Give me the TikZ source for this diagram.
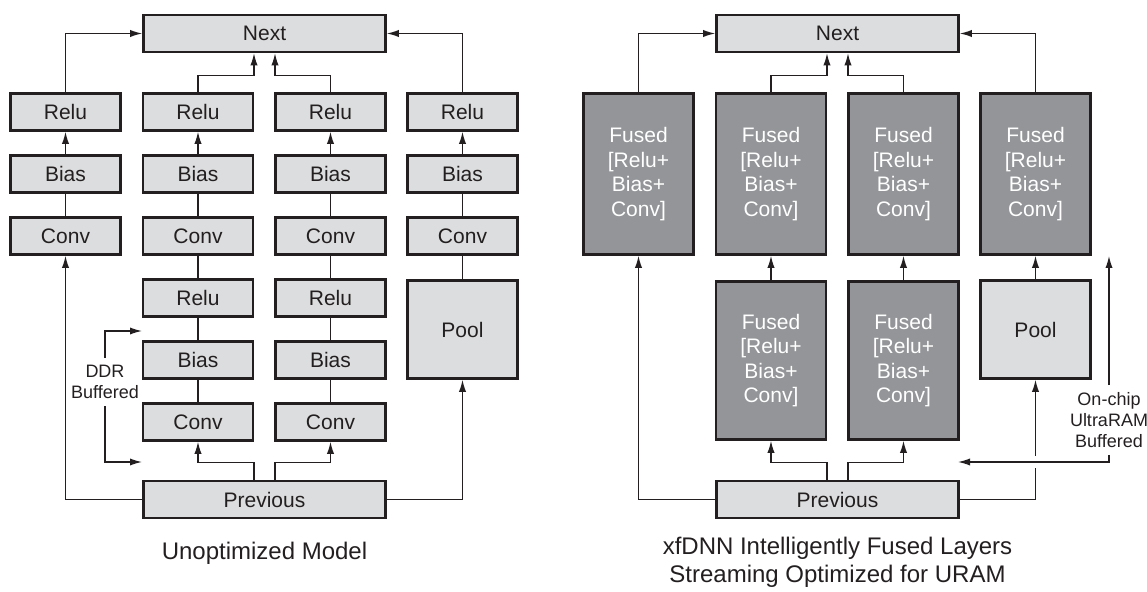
\documentclass[tikz,border=0pt]{standalone}
\usepackage{fontspec}
\setmainfont{Liberation Sans}
\usetikzlibrary{arrows.meta}
\definecolor{lgray}{HTML}{DCDDDE}
\definecolor{dgray}{HTML}{939598}
\definecolor{ink}{HTML}{231F20}
\newcommand{\fusedtext}{Fused\\{[}Relu+\\Bias+\\Conv{]}}

\begin{document}
\begin{tikzpicture}[x=0.5pt,y=-0.5pt,color=ink,line width=0.65pt,
  font=\fontsize{10.5}{12.25}\selectfont,>={Latex[length=6pt,width=3.6pt]},
  b/.style={draw=ink,fill=lgray,line width=1.3pt,minimum width=55pt,minimum height=18.5pt,inner sep=0pt,text=ink},
  fb/.style={b,fill=dgray,text=white,align=center,minimum height=80.5pt},
  nb/.style={b,minimum width=121pt},
  lbl/.style={font=\fontsize{9}{10.5}\selectfont,align=center},
  captxt/.style={font=\fontsize{12}{14}\selectfont,align=center}]
  \useasboundingbox (0,0) rectangle (1147,592);
  % unoptimized model
  \node[nb] (nx) at (264.5,33.5) {Next};
  \node[b] (r1) at (65.5,112) {Relu};\node[b] (b1) at (65.5,174) {Bias};\node[b] (c1) at (65.5,236) {Conv};
  \node[b] (r2) at (198,112) {Relu};\node[b] (b2) at (198,174) {Bias};\node[b] (c2) at (198,236) {Conv};
  \node[b] (rr2) at (198,298) {Relu};\node[b] (bb2) at (198,360) {Bias};\node[b] (cc2) at (198,422) {Conv};
  \node[b] (r3) at (330.5,112) {Relu};\node[b] (b3) at (330.5,174) {Bias};\node[b] (c3) at (330.5,236) {Conv};
  \node[b] (rr3) at (330.5,298) {Relu};\node[b] (bb3) at (330.5,360) {Bias};\node[b] (cc3) at (330.5,422) {Conv};
  \node[b] (r4) at (462.5,112) {Relu};\node[b] (b4) at (462.5,174) {Bias};\node[b] (c4) at (462.5,236) {Conv};
  \node[b,minimum height=49pt] (pl) at (462.5,329.5) {Pool};
  \node[nb] (pv) at (264.5,499.5) {Previous};
  \node[lbl] (ddr) at (105,382) {DDR\\Buffered};
  \coordinate (d1) at (142,331);\coordinate (d2) at (142,462);
  \node[captxt] (t1) at (264.5,553) {Unoptimized Model};
  \draw[->](r1.north)|-(nx.west);\draw[->](r4.north)|-(nx.east);
  \draw[->](r2.north)--++(0,-17)-|([xshift=-5.25pt]nx.south);
  \draw[->](r3.north)--++(0,-17)-|([xshift=5.25pt]nx.south);
  \draw[->](b1)--(r1);\draw[->](b2)--(r2);\draw[->](b3)--(r3);\draw[->](b4)--(r4);
  \draw(c1)--(b1);\draw(c2)--(b2);\draw(c3)--(b3);\draw(c4)--(b4);\draw(pl)--(c4);
  \draw(rr2)--(c2);\draw(bb2)--(rr2);\draw(cc2)--(bb2);
  \draw(rr3)--(c3);\draw(bb3)--(rr3);\draw(cc3)--(bb3);
  \draw[->](pv.west)-|(c1.south);\draw[->](pv.east)-|(pl.south);
  \draw[->]([xshift=-5.25pt]pv.north)--++(0,-17)-|(cc2.south);
  \draw[->]([xshift=5.25pt]pv.north)--++(0,-17)-|(cc3.south);
  \draw[->](ddr.north)|-(d1);\draw[->](ddr.south)|-(d2);
  % fused layers
  \node[nb] (nx2) at (837.5,33.5) {Next};
  \node[fb] (f1) at (638.5,174) {\fusedtext};\node[fb] (f2) at (771,174) {\fusedtext};
  \node[fb] (f3) at (903.5,174) {\fusedtext};\node[fb] (f4) at (1035.5,174) {\fusedtext};
  \node[fb,minimum height=79pt] (g2) at (771,360.5) {\fusedtext};
  \node[fb,minimum height=79pt] (g3) at (903.5,360.5) {\fusedtext};
  \node[b,minimum height=49pt] (pl2) at (1035.5,329.5) {Pool};
  \node[nb] (pv2) at (837.5,499.5) {Previous};
  \node[lbl] (oc) at (1109,420) {On-chip\\UltraRAM\\Buffered};
  \coordinate (o1) at (1109,256);\coordinate (o2) at (958,462);
  \coordinate (q1) at (1035.5,468);\coordinate (q2) at (1035.5,456);
  \node[captxt] (t2) at (837.5,562) {xfDNN Intelligently Fused Layers\\Streaming Optimized for URAM};
  \draw[->](f1.north)|-(nx2.west);\draw[->](f4.north)|-(nx2.east);
  \draw[->](f2.north)--++(0,-17)-|([xshift=-5.25pt]nx2.south);
  \draw[->](f3.north)--++(0,-17)-|([xshift=5.25pt]nx2.south);
  \draw[->](g2)--(f2);\draw[->](g3)--(f3);\draw[->](pl2)--(f4);
  \draw[->](pv2.west)-|(f1.south);
  \draw[->]([xshift=-5.25pt]pv2.north)--++(0,-17)-|(g2.south);
  \draw[->]([xshift=5.25pt]pv2.north)--++(0,-17)-|(g3.south);
  \draw(pv2.east)-|(q1);\draw[->](q2)--(pl2.south);
  \draw[->](oc.north)--(o1);\draw[->](oc.south)|-(o2);
\end{tikzpicture}
\end{document}
